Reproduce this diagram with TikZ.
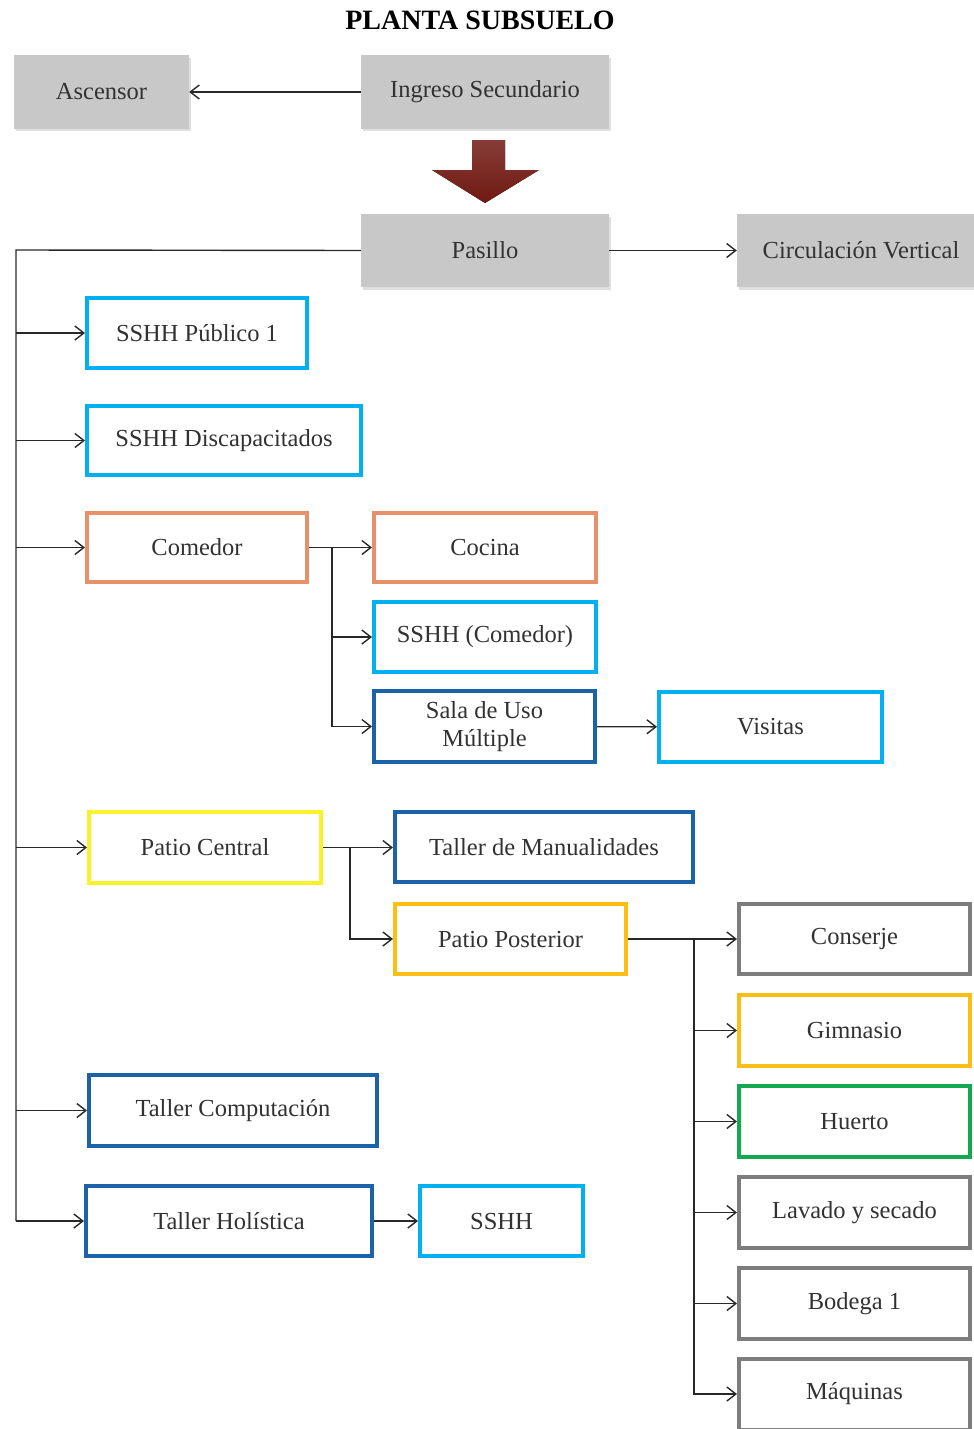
\documentclass[tikz,border=0pt]{standalone}
\usepackage{fontspec}
\setmainfont{Liberation Serif}
\usetikzlibrary{positioning, arrows.meta, shadows}
\definecolor{skyline}{RGB}{0,176,240}
\definecolor{navyline}{RGB}{28,98,168}
\definecolor{salmonline}{RGB}{232,144,106}
\definecolor{lemonline}{RGB}{250,242,40}
\definecolor{amberline}{RGB}{250,190,20}
\definecolor{leafline}{RGB}{20,168,80}
\definecolor{stoneline}{RGB}{125,125,125}
\definecolor{hallfill}{RGB}{200,200,200}
\definecolor{textgray}{RGB}{50,50,50}
\definecolor{linegray}{RGB}{40,40,40}
\definecolor{arrowred}{RGB}{112,26,18}
\newcommand{\roomfont}{\fontsize{24.5}{28}\selectfont}

\begin{document}
\begin{tikzpicture}[x=1pt, y=-1pt,
      room/.style={draw=#1, line width=4pt, fill=white, text=textgray, font=\roomfont, align=center, inner sep=0pt, drop shadow={opacity=0.2, shadow xshift=1.5pt, shadow yshift=-2pt}},
      hall/.style={fill=hallfill, text=textgray, font=\roomfont, inner sep=0pt, drop shadow={opacity=0.25, shadow xshift=1.5pt, shadow yshift=-2.5pt}},
      link/.style={line width=1.4pt, draw=linegray},
      linkarrow/.style={link, -{Straight Barb[length=9pt,width=14pt]}}
    ]
      \useasboundingbox (0,0) rectangle (974,1429);
      \node[font=\bfseries\fontsize{28}{30}\selectfont, text=black] (title) at (480,20) {PLANTA SUBSUELO};

      % entrada y pasillo
      \node[hall, minimum width=175pt, minimum height=73pt] (asc) at (101.5,92) {Ascensor};
      \node[hall, minimum width=248pt, minimum height=73pt] (ingreso) at (485,92) {Ingreso Secundario};
      \node[hall, minimum width=248pt, minimum height=73pt] (pasillo) at (485,250.5) {Pasillo};
      \node[hall, minimum width=248pt, minimum height=73pt] (circ) at (861,250.5) {Circulación Vertical};
      \fill[top color=arrowred!85!white, bottom color=arrowred] (472,140) -- (505,140) -- (505,170) -- (539,170) -- (485,203) -- (432,170) -- (472,170) -- cycle;

      % columna izquierda
      \node[room=skyline, minimum width=220pt, minimum height=70pt] (ssh1) at (197,333) {SSHH Público 1};
      \node[room=skyline, minimum width=274pt, minimum height=69pt] (sshd) at (224,440.5) {SSHH Discapacitados};
      \node[room=salmonline, minimum width=220pt, minimum height=69pt] (comedor) at (197,547.5) {Comedor};
      \node[room=lemonline, minimum width=232pt, minimum height=71pt] (pcentral) at (205,847.5) {Patio Central};
      \node[room=navyline, minimum width=288pt, minimum height=71pt] (tcomp) at (233,1110.5) {Taller Computación};
      \node[room=navyline, minimum width=286pt, minimum height=70pt] (tholi) at (229,1221) {Taller Holística};

      % comedor
      \node[room=salmonline, minimum width=222pt, minimum height=69pt] (cocina) at (485,547.5) {Cocina};
      \node[room=skyline, minimum width=222pt, minimum height=70pt] (sshc) at (485,637) {SSHH (Comedor)};
      \node[room=navyline, minimum width=221pt, minimum height=71pt] (sala) at (484.5,726.5) {Sala de Uso\\Múltiple};
      \node[room=skyline, minimum width=223pt, minimum height=70pt] (visitas) at (770.5,727) {Visitas};

      % patios
      \node[room=navyline, minimum width=298pt, minimum height=70pt] (manual) at (544,847) {Taller de Manualidades};
      \node[room=amberline, minimum width=231pt, minimum height=70pt] (pposterior) at (510.5,939) {Patio Posterior};
      \node[room=stoneline, minimum width=231pt, minimum height=70pt] (conserje) at (854.5,939) {Conserje};
      \node[room=amberline, minimum width=231pt, minimum height=71pt] (gimnasio) at (854.5,1030.5) {Gimnasio};
      \node[room=leafline, minimum width=231pt, minimum height=71pt] (huerto) at (854.5,1121.5) {Huerto};
      \node[room=stoneline, minimum width=231pt, minimum height=71pt] (lavado) at (854.5,1212.5) {Lavado y secado};
      \node[room=stoneline, minimum width=231pt, minimum height=71pt] (bodega) at (854.5,1303.5) {Bodega 1};
      \node[room=stoneline, minimum width=231pt, minimum height=71pt] (maquinas) at (854.5,1394) {Máquinas};
      \node[room=skyline, minimum width=163pt, minimum height=70pt] (sshh) at (501.5,1221) {SSHH};

      % conexiones
      \coordinate (spine) at (16,250);
      \coordinate (cbranch) at (332,547.5);
      \coordinate (pbranch) at (350,847.5);
      \coordinate (rbranch) at (694,939);

      \draw[linkarrow] (ingreso) -- (asc);
      \draw[linkarrow] (pasillo) -- (circ);
      \draw[link] (pasillo.west) -- (spine) -- (spine |- tholi.west);
      \foreach \dest in {ssh1, sshd, comedor, pcentral, tcomp, tholi}
        \draw[linkarrow] (spine |- \dest.west) -- (\dest.west);

      \draw[linkarrow] (comedor) -- (cocina);
      \draw[linkarrow] (cbranch) |- (sshc.west);
      \draw[linkarrow] (cbranch) |- (sala.west);
      \draw[linkarrow] (sala) -- (visitas);

      \draw[linkarrow] (pcentral.east) -- (manual.west |- pcentral.east);
      \draw[linkarrow] (pbranch) |- (pposterior.west);
      \draw[linkarrow] (pposterior) -- (conserje);
      \foreach \dest in {gimnasio, huerto, lavado, bodega, maquinas}
        \draw[linkarrow] (rbranch) |- (\dest.west);

      \draw[linkarrow] (tholi) -- (sshh);
    \end{tikzpicture}
\end{document}
